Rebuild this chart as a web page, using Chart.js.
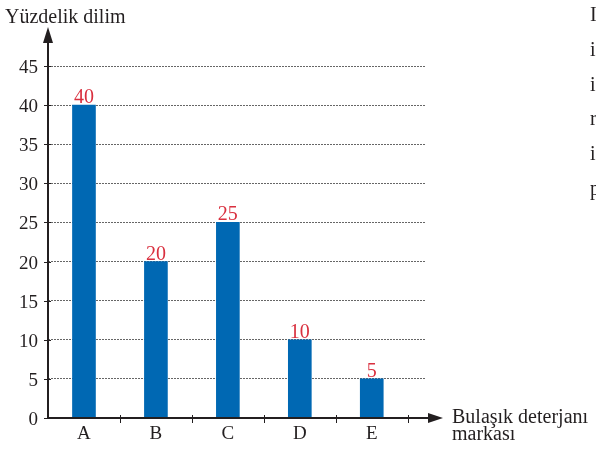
<!DOCTYPE html>
<html>
<head>
<meta charset="utf-8">
<script src="https://cdn.jsdelivr.net/npm/chart.js@4"></script>
<style>
  html, body { margin: 0; padding: 0; background: #fff; }
  #wrap { width: 596px; height: 449px; position: relative; }
</style>
</head>
<body>
<div id="wrap"><canvas id="c" width="596" height="449"></canvas></div>
<script>
// Market share of dishwashing detergent brands (percent)
const brands = ['A', 'B', 'C', 'D', 'E'];
const shares = [40, 20, 25, 10, 5];
const yTicks = [0, 5, 10, 15, 20, 25, 30, 35, 40, 45];
const yTitle = 'Yüzdelik dilim';
const xTitle = ['Bulaşık deterjanı', 'markası'];
// first letters of the neighbouring text column, clipped by the page edge
const sideText = ['I', 'i', 'i', 'r', 'i', 'p'];

const SERIF = '"Liberation Serif", "DejaVu Serif", serif';
const INK = '#231f20';
const RED = '#d9303f';
const BLUE = '#0068b3';

const decorations = {
  id: 'decorations',
  afterDatasetsDraw(chart) {
    const { ctx, chartArea: a, scales: { x, y } } = chart;
    const x0 = a.left;
    const y0 = y.getPixelForValue(0);
    ctx.save();
    ctx.strokeStyle = INK;
    ctx.fillStyle = INK;

    // vertical axis with arrow
    ctx.lineWidth = 2;
    ctx.beginPath(); ctx.moveTo(x0, y0 + 1); ctx.lineTo(x0, a.top - 24); ctx.stroke();
    ctx.beginPath();
    ctx.moveTo(x0, a.top - 39);
    ctx.lineTo(x0 - 5, a.top - 23);
    ctx.lineTo(x0 + 5, a.top - 23);
    ctx.closePath(); ctx.fill();

    // horizontal axis with arrow
    ctx.beginPath(); ctx.moveTo(x0 - 1, y0); ctx.lineTo(a.right + 6, y0); ctx.stroke();
    ctx.beginPath();
    ctx.moveTo(a.right + 18, y0);
    ctx.lineTo(a.right + 3, y0 - 5);
    ctx.lineTo(a.right + 3, y0 + 5);
    ctx.closePath(); ctx.fill();

    // tick marks
    ctx.lineWidth = 1;
    yTicks.forEach(v => {
      const py = Math.round(y.getPixelForValue(v)) + 0.5;
      ctx.beginPath(); ctx.moveTo(x0 - 4, py); ctx.lineTo(x0 + 3, py); ctx.stroke();
    });
    for (let i = 1; i <= brands.length; i++) {
      const px = Math.round(x.getPixelForValue(i)) + 0.5;
      ctx.beginPath(); ctx.moveTo(px, y0 - 3); ctx.lineTo(px, y0 + 5); ctx.stroke();
    }

    // value labels above the bars
    ctx.font = '20px ' + SERIF;
    ctx.textAlign = 'center';
    ctx.textBaseline = 'alphabetic';
    ctx.fillStyle = RED;
    chart.getDatasetMeta(0).data.forEach((bar, i) => {
      ctx.fillText(String(shares[i]), bar.x, bar.y - 2);
    });

    // axis titles
    ctx.fillStyle = INK;
    ctx.textAlign = 'left';
    ctx.fillText(yTitle, 5, 23);
    ctx.fillText(xTitle[0], a.right + 27, y0 + 5);
    ctx.fillText(xTitle[1], a.right + 27, y0 + 22);

    // side column
    ctx.font = '20px ' + SERIF;
    sideText.forEach((t, i) => ctx.fillText(t, 590, 21 + 34.8 * i));
    ctx.restore();
  }
};

new Chart(document.getElementById('c'), {
  type: 'bar',
  data: {
    datasets: [{
      data: shares.map((v, i) => ({ x: i + 0.5, y: v })),
      backgroundColor: BLUE,
      borderWidth: 0,
      barThickness: 23
    }]
  },
  options: {
    responsive: false,
    devicePixelRatio: 1,
    animation: false,
    layout: { padding: { top: 66, right: 171, bottom: 0, left: 0 } },
    plugins: { legend: { display: false }, tooltip: { enabled: false } },
    scales: {
      x: {
        type: 'linear',
        offset: false,
        min: 0,
        max: 5.24,
        afterBuildTicks: s => { s.ticks = brands.map((_, i) => ({ value: i + 0.5 })); },
        afterFit: s => { s.height = 31; },
        grid: { display: false, offset: false },
        border: { display: false },
        ticks: {
          autoSkip: false,
          maxRotation: 0,
          padding: -3,
          color: INK,
          font: { family: SERIF, size: 19 },
          callback: v => brands[Math.round(v - 0.5)]
        }
      },
      y: {
        min: 0,
        max: 45,
        afterBuildTicks: s => { s.ticks = yTicks.map(v => ({ value: v })); },
        afterFit: s => { s.width = 48; },
        grid: { color: '#666', lineWidth: 1, drawTicks: false },
        border: { display: false, dash: [2, 1] },
        ticks: {
          padding: 10,
          color: INK,
          labelOffset: 2,
          font: { family: SERIF, size: 19 }
        }
      }
    }
  },
  plugins: [decorations]
});
</script>
</body>
</html>
